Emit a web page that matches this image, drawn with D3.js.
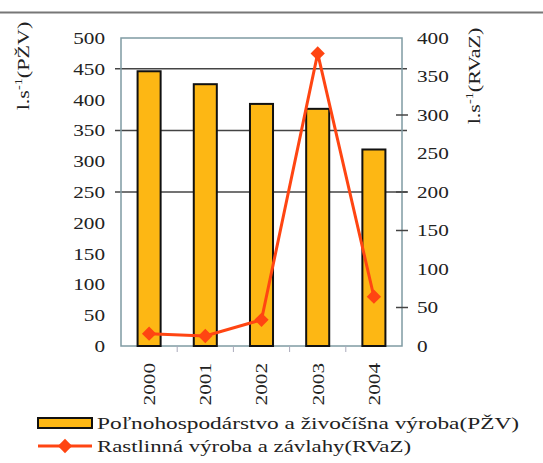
<!doctype html>
<html>
  <head>
    <meta charset="utf-8">
    <script src="https://cdn.jsdelivr.net/npm/d3@7"></script>
    <style>
    body { margin: 0; background: #fff; }
    .chart { font-family: 'Liberation Serif', 'Times New Roman', serif; }
    .chart text { fill: #222; }
    </style>
  </head>
  <body>
    <svg class="chart"></svg>
  <script>

    const years = ["2000", "2001", "2002", "2003", "2004"]
    const pzv = [446, 425, 393, 385, 319]      // left axis, bars
    const rvaz = [16, 13, 34, 380, 64]         // right axis, line
    const leftTicks = [0, 50, 100, 150, 200, 250, 300, 350, 400, 450, 500]
    const rightTicks = [0, 50, 100, 150, 200, 250, 300, 350, 400]
    const gridValues = [250, 350, 450]
    const rightMarks = [50, 150, 200, 300]
    const legendNames = ["Poľnohospodárstvo a živočíšna výroba(PŽV)", "Rastlinná výroba a závlahy(RVaZ)"]
    const legendWidths = [422, 314]

    const W = 543, H = 463
    const plotL = 121, plotR = 402, plotT = 38, plotB = 346

    const barColor = "#fdb714",
          lineColor = "#ff4512",
          frameColor = "#7f9ba3",
          gridColor = "#444"

    const svg = d3.select(".chart").attr("width", W).attr("height", H)

    const x = d3.scaleBand().domain(years).range([plotL, plotR])
                .paddingInner(0.59).paddingOuter(0.295)
    const yL = d3.scaleLinear().domain([0, 500]).range([plotB, plotT])
    const yR = d3.scaleLinear().domain([0, 400]).range([plotB, plotT])

    // rule at top of the page
    svg.append("line")
      .attr("x1", 0).attr("x2", W).attr("y1", 12.5).attr("y2", 12.5)
      .attr("stroke", "#777").attr("stroke-width", 2)

    // gridlines (left axis)
    svg.selectAll(".grid")
      .data(gridValues)
      .enter().append("line")
        .attr("class", "grid")
        .attr("x1", plotL - 6).attr("x2", plotR + 5)
        .attr("y1", d => yL(d)).attr("y2", d => yL(d))
        .attr("stroke", gridColor).attr("stroke-width", 1.5)

    // plot frame
    svg.append("rect")
      .attr("x", plotL).attr("y", plotT)
      .attr("width", plotR - plotL).attr("height", plotB - plotT)
      .attr("fill", "none").attr("stroke", frameColor).attr("stroke-width", 1.5)

    // category ticks under the x axis
    svg.selectAll(".xtick")
      .data(years.slice(1))
      .enter().append("line")
        .attr("class", "xtick")
        .attr("x1", d => x(d) - x.step() * x.paddingInner() / 2)
        .attr("x2", d => x(d) - x.step() * x.paddingInner() / 2)
        .attr("y1", plotB).attr("y2", plotB + 6)
        .attr("stroke", "#aab").attr("stroke-width", 1)

    // right axis tick marks
    svg.selectAll(".rtick")
      .data(rightMarks)
      .enter().append("line")
        .attr("class", "rtick")
        .attr("x1", plotR - 6).attr("x2", plotR + 6)
        .attr("y1", d => yR(d)).attr("y2", d => yR(d))
        .attr("stroke", gridColor).attr("stroke-width", 1.5)

    // bars
    svg.selectAll(".bar")
      .data(pzv)
      .enter().append("rect")
        .attr("class", "bar")
        .attr("x", (d, i) => x(years[i]))
        .attr("y", d => yL(d))
        .attr("width", x.bandwidth())
        .attr("height", d => plotB - yL(d))
        .attr("fill", barColor)
        .attr("stroke", "#111").attr("stroke-width", 2)

    // line
    const line = d3.line()
      .x((d, i) => x(years[i]) + x.bandwidth() / 2)
      .y(d => yR(d))

    svg.append("path")
      .datum(rvaz)
      .attr("d", line)
      .attr("fill", "none")
      .attr("stroke", lineColor).attr("stroke-width", 3)

    const diamond = d3.symbol().type(d3.symbolDiamond2).size(130)

    svg.selectAll(".pt")
      .data(rvaz)
      .enter().append("path")
        .attr("class", "pt")
        .attr("d", diamond)
        .attr("transform", (d, i) => "translate(" + (x(years[i]) + x.bandwidth() / 2) + "," + yR(d) + ")")
        .attr("fill", lineColor)

    // axes labels
    const yAxisL = d3.axisLeft(yL).tickValues(leftTicks).tickSize(0).tickPadding(16)
    const gL = svg.append("g").attr("transform", "translate(" + plotL + ",0)").call(yAxisL)

    const yAxisR = d3.axisRight(yR).tickValues(rightTicks).tickSize(0).tickPadding(15)
    const gR = svg.append("g").attr("transform", "translate(" + plotR + ",0)").call(yAxisR)

    const xAxis = d3.axisBottom(x).tickSize(0).tickPadding(0)
    const gX = svg.append("g").attr("transform", "translate(0," + plotB + ")").call(xAxis)
    gX.selectAll("text")
      .attr("transform", "rotate(-90)")
      .attr("text-anchor", "end")
      .attr("x", -17).attr("y", 0).attr("dy", "0.35em")

    for (const g of [gL, gR, gX]) {
      g.select(".domain").remove()
      g.selectAll("text")
        .style("font-family", "'Liberation Serif', serif")
        .style("font-size", "17px")
        .attr("fill", "#222")
        .attr("textLength", function() { return this.textContent.length * 10.6 })
        .attr("lengthAdjust", "spacingAndGlyphs")
    }

    svg.append("text")
      .attr("transform", "translate(29,66) rotate(-90) scale(1.3,1)")
      .attr("text-anchor", "middle")
      .style("font-size", "17px")
      .html("l.s<tspan dy='-7' font-size='11'>-1</tspan><tspan dy='7'>(PŽV)</tspan>")

    svg.append("text")
      .attr("transform", "translate(480,76) rotate(-90) scale(1.3,1)")
      .attr("text-anchor", "middle")
      .style("font-size", "17px")
      .html("l.s<tspan dy='-7' font-size='11'>-1</tspan><tspan dy='7'>(RVaZ)</tspan>")

    // legend
    const legend = svg.append("g").attr("transform", "translate(38,423)")

    legend.append("rect")
      .attr("x", 0).attr("y", -5).attr("width", 54).attr("height", 10)
      .attr("fill", barColor).attr("stroke", "#111").attr("stroke-width", 2)

    legend.append("line")
      .attr("x1", 0).attr("x2", 54).attr("y1", 23).attr("y2", 23)
      .attr("stroke", lineColor).attr("stroke-width", 3)

    legend.append("path")
      .attr("d", diamond)
      .attr("transform", "translate(27,23)")
      .attr("fill", lineColor)

    legend.selectAll(".lg")
      .data(legendNames)
      .enter().append("text")
        .attr("class", "lg")
        .attr("x", 59)
        .attr("y", (d, i) => i * 23)
        .attr("dy", "0.35em")
        .style("font-size", "17px")
        .attr("textLength", (d, i) => legendWidths[i])
        .attr("lengthAdjust", "spacingAndGlyphs")
        .text(d => d)

  </script>
  </body>
</html>
